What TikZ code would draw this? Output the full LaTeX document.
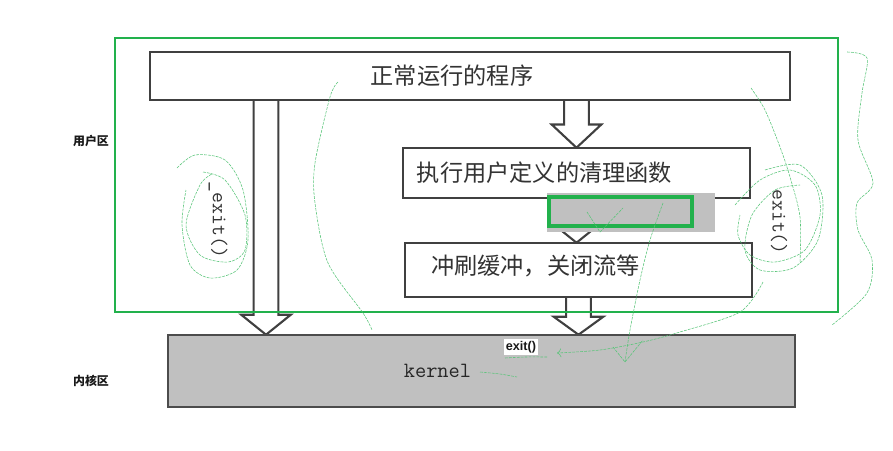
\documentclass[tikz,border=0pt]{standalone}
\usepackage{fontspec}
\newfontfamily\cjk{Noto Sans CJK SC}
\newfontfamily\lsans{Liberation Sans}
\usetikzlibrary{calc, arrows.meta}

\definecolor{grn}{RGB}{34,177,76}
\definecolor{kgray}{RGB}{192,192,192}

% fat block arrow: [head length]{start}{tip}
\newcommand{\fatarrow}[3][0.5cm]{%
  \draw[fatarr] let \p1=(#2), \p2=(#3) in
    (\x1-0.31cm,\y1) -- (\x1-0.31cm,\y2+#1) -- (\x1-0.62cm,\y2+#1) -- (\x1,\y2)
    -- (\x1+0.62cm,\y2+#1) -- (\x1+0.31cm,\y2+#1) -- (\x1+0.31cm,\y1);}

\begin{document}
\begin{tikzpicture}[x=0.025cm, y=-0.025cm,
        box/.style={rectangle, draw=black!75, line width=1.7pt, fill=white, inner sep=0pt, text=black!80, font=\cjk\fontsize{16.5}{18}\selectfont},
        kernelbox/.style={rectangle, draw=black!70, line width=1.7pt, fill=kgray, inner sep=0pt, text=black!85, font=\ttfamily\fontsize{15.5}{17}\selectfont},
        fatarr/.style={draw=black!75, line width=1.5pt, fill=white, line join=miter},
        zone/.style={draw=grn, line width=2pt},
        zonelabel/.style={font=\cjk\bfseries\fontsize{8.5}{10}\selectfont, text=black!90},
        calllabel/.style={font=\ttfamily\fontsize{15}{17}\selectfont, text=black!80, rotate=-90},
        scribble/.style={draw=grn!75, line width=0.4pt, dash pattern=on 2pt off 0.8pt}
    ]
    \useasboundingbox (0,0) rectangle (893,450);
    % zone labels
    \node[zonelabel] (user) at (91,141) {用户区};
    \node[zonelabel] (kernlab) at (91,381) {内核区};
    % coordinates for the boxes and arrows
    \coordinate (lx) at (266,0);
    \coordinate (prog0) at (470,76);
    \coordinate (kern0) at (481.5,371);
    % arrows (under the boxes)
    \path (prog0) node[minimum width=16cm, minimum height=1.2cm] (progsize) {};
    \path (kern0) node[minimum width=15.675cm, minimum height=1.8cm] (kernsize) {};
    \fatarrow{progsize.south -| lx}{kernsize.north -| lx}
    \path (576.5,173) node[minimum width=8.675cm, minimum height=1.25cm] (midsize) {};
    \path (578.5,270) node[minimum width=8.675cm, minimum height=1.35cm] (lowsize) {};
    \fatarrow[0.58cm]{progsize.south -| midsize.north}{midsize.north}
    \fatarrow{midsize.south}{lowsize.north}
    \fatarrow[0.45cm]{lowsize.south}{kernsize.north -| lowsize.south}
    % boxes
    \node[box, minimum width=16cm, minimum height=1.2cm] (prog) at (prog0) {\hspace*{-0.9cm}正常运行的程序};
    \node[box, minimum width=8.675cm, minimum height=1.25cm] (mid) at (576.5,173) {\hspace*{-1.6cm}\raisebox{-0.12cm}{执行用户定义的清理函数}};
    \node[box, minimum width=8.675cm, minimum height=1.35cm] (low) at (578.5,270) {\hspace*{-2.15cm}\raisebox{0.25cm}{冲刷缓冲，关闭流等}};
    \node[kernelbox, minimum width=15.675cm, minimum height=1.8cm] (kern) at (kern0) {\hspace*{-2.2cm}kernel};
    % grey patch with green frame
    \fill[kgray] (547,193) rectangle (715,232);
    \draw[grn, line width=2.2pt] (549,197) rectangle (692,226);
    % call labels
    \node[calllabel] (uexit) at (218,220) {\_exit()};
    \node[calllabel] (lexit) at (779,222) {exit()};
    \node[fill=white, inner sep=1.5pt, text=black!90, font=\lsans\bfseries\fontsize{9}{10}\selectfont] (kexit) at (521,347) {exit()};
    % user area
    \draw[zone] (115,38) rectangle (838,312);
    % hand-drawn marks
    \draw[scribble] plot[smooth] coordinates {(177,168) (195,155) (225,160) (243,190) (248,240) (237,270) (210,278) (190,265) (182,225) (186,190)};
    \draw[scribble] plot[smooth] coordinates {(203,172) (225,180) (245,215) (245,250) (228,262) (200,255) (186,225) (200,185) (212,174)};
    \draw[scribble] plot[smooth] coordinates {(338,82) (330,97) (315,163) (315,203) (328,263) (363,313) (372,330)};
    \draw[scribble] plot[smooth] coordinates {(735,205) (760,180) (790,170) (815,185) (820,215) (805,250) (775,262) (750,255) (738,235) (740,215)};
    \draw[scribble] plot[smooth] coordinates {(765,170) (800,165) (822,195) (818,240) (793,268) (760,270) (745,250) (752,215) (775,190) (800,185)};
    \draw[scribble] plot[smooth] coordinates {(751,88) (765,110) (780,147) (790,177) (800,217) (800,263)};
    \draw[scribble] plot[smooth] coordinates {(847,52) (867,58) (862,93) (858,140) (873,183) (857,203) (858,230) (872,260) (867,293) (832,325)};
    \draw[scribble] plot[smooth] coordinates {(663,203) (650,240) (640,280) (630,330) (625,362)};
    \draw[scribble] (587,212) -- (600,232) -- (623,208);
    \draw[scribble] (613,347) -- (625,362) -- (643,340);
    \coordinate (kexitend) at (557,353);
    \draw[scribble, -{To[length=3pt]}] plot[smooth] coordinates {(763,282) (740,312) (680,332) (643,342) (600,350) (kexitend)};
    \draw[scribble] plot[smooth] coordinates {(480,372) (500,374) (517,377)};
    \draw[scribble] plot[smooth] coordinates {(505,358) (525,357) (547,357)};
\end{tikzpicture}
\end{document}
